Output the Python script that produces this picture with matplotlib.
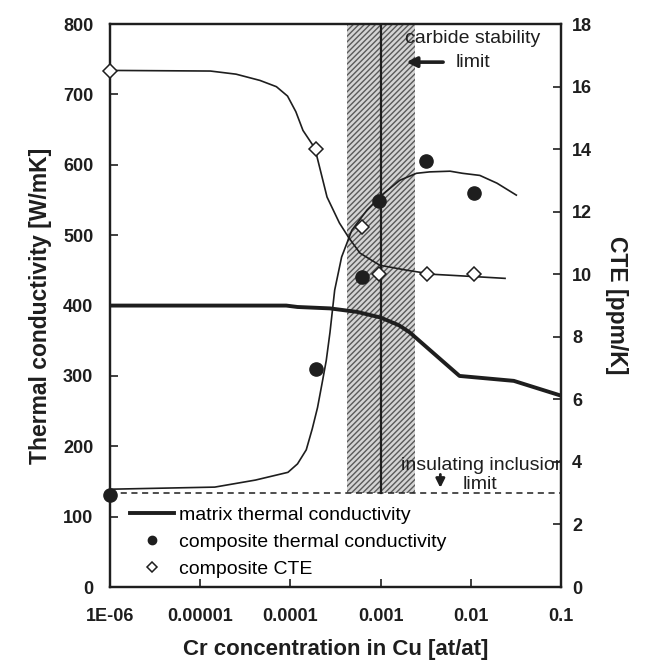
import numpy as np
import matplotlib.pyplot as plt
from matplotlib.lines import Line2D

plt.rcParams['font.family'] = ['Liberation Sans', 'DejaVu Sans']

# matrix thermal conductivity (left axis)
x_matrix = [1e-6, 1e-5, 9e-5, 1.2e-4, 2.75e-4, 5.5e-4, 1e-3, 1.6e-3, 2.1e-3, 7.5e-3, 3e-2, 1e-1]
k_matrix = [400, 400, 400, 398, 396, 391, 383, 372, 362, 300, 293, 272]

# composite thermal conductivity, measured and fit
x_kc = [1e-6, 1.9e-4, 6.3e-4, 9.5e-4, 3.2e-3, 1.1e-2]
k_kc = [131, 310, 440, 548, 605, 560]
x_kc_fit = [1e-6, 1.45e-5, 4.1e-5, 9.4e-5, 1.2e-4, 1.5e-4, 1.75e-4, 2.0e-4, 2.25e-4,
            2.5e-4, 2.75e-4, 3.1e-4, 3.7e-4, 4.8e-4, 7.1e-4, 1.03e-3, 1.63e-3,
            2.5e-3, 3.5e-3, 5.9e-3, 8.1e-3, 1.26e-2, 1.95e-2, 3.2e-2]
k_kc_fit = [139, 142, 152, 163, 175, 195, 225, 255, 290,
            322, 362, 422, 469, 507, 536, 557, 578,
            588, 590, 591, 588, 585, 574, 557]

# composite CTE, measured and fit (right axis)
x_cte = [1e-6, 1.9e-4, 6.3e-4, 9.6e-4, 3.3e-3, 1.1e-2]
cte = [16.5, 14.0, 11.5, 10.0, 10.0, 10.0]
x_cte_fit = [1e-6, 1.3e-5, 2.5e-5, 4.6e-5, 7e-5, 9.3e-5, 1.15e-4, 1.38e-4, 1.87e-4,
             2.55e-4, 3.5e-4, 4.4e-4, 5.9e-4, 9.8e-4, 1.96e-3, 3.8e-3, 5.9e-3,
             1.2e-2, 2.4e-2]
cte_fit = [16.52, 16.5, 16.4, 16.2, 16.0, 15.7, 15.2, 14.6, 14.03,
           12.47, 11.64, 11.19, 10.68, 10.29, 10.13, 10.0, 9.97,
           9.92, 9.87]

x_ticks = [1e-6, 1e-5, 1e-4, 1e-3, 1e-2, 1e-1]
x_ticklabels = ['1E-06', '0.00001', '0.0001', '0.001', '0.01', '0.1']

band = [4.2e-4, 2.4e-3]
carbide_limit = 1e-3
insulating_limit = 133.5

fig = plt.figure(figsize=(6.45, 6.63), dpi=100)
ax = fig.add_axes([0.1705, 0.1146, 0.6992, 0.849])
ax2 = ax.twinx()

c = '#1e1e1e'

ax.fill_between(band, insulating_limit, 800, facecolor='#d4d4d4',
                edgecolor='#5a5a5a', hatch='//////', linewidth=0, zorder=1)
ax.plot([carbide_limit, carbide_limit], [insulating_limit, 800], color=c, lw=1.6, zorder=3)
ax.axhline(insulating_limit, color=c, lw=1.1, ls=(0, (4, 3)), zorder=3)

ax.plot(x_matrix, k_matrix, color=c, lw=2.8, zorder=4)
ax.plot(x_kc_fit, k_kc_fit, color=c, lw=1.2, zorder=4)
ax.plot(x_kc, k_kc, 'o', color=c, ms=9.5, zorder=5, clip_on=False)

ax2.plot(x_cte_fit, cte_fit, color=c, lw=1.2, zorder=4)
ax2.plot(x_cte, cte, 'D', mfc='white', mec=c, mew=1.1, ms=7.5, zorder=5, clip_on=False)

ax.set_xscale('log')
ax.set_xlim(1e-6, 1e-1)
ax.set_ylim(0, 800)
ax2.set_ylim(0, 18)
ax.set_xticks(x_ticks)
ax.set_xticklabels(x_ticklabels)
ax.minorticks_off()
ax.set_yticks(np.arange(0, 801, 100))
ax2.set_yticks(np.arange(0, 19, 2))

for a in (ax, ax2):
    a.tick_params(direction='in', length=6, width=1.2, labelsize=13, colors=c)
    for lab in a.get_xticklabels() + a.get_yticklabels():
        lab.set_fontweight('bold')
    for s in a.spines.values():
        s.set_linewidth(1.6)
        s.set_color(c)
ax.tick_params(axis='x', pad=15)
ax.tick_params(axis='y', pad=12)
ax2.tick_params(axis='y', pad=8)

ax.set_xlabel('Cr concentration in Cu [at/at]', fontsize=16, fontweight='bold', labelpad=10, color=c)
ax.set_ylabel('Thermal conductivity [W/mK]', fontsize=16.5, fontweight='bold', labelpad=8, color=c)
ax2.set_ylabel('CTE [ppm/K]', fontsize=16.5, fontweight='bold', rotation=270, labelpad=26, color=c)

ax2.text(1.05e-2, 780, 'carbide stability', transform=ax.transData, ha='center',
         va='center', fontsize=14, color=c, zorder=6)
ax2.text(1.07e-2, 746, 'limit', transform=ax.transData, ha='center',
         va='center', fontsize=14, color=c, zorder=6)
ax2.annotate('', xy=(1.8e-3, 746), xytext=(5.3e-3, 746), xycoords=ax.transData,
             textcoords=ax.transData,
             arrowprops=dict(arrowstyle='-|>', color=c, lw=2.6, mutation_scale=15))

ax2.text(1.69e-3, 172, 'insulating inclusion', transform=ax.transData, ha='left',
         va='center', fontsize=14, color=c, clip_on=True, zorder=6)
ax2.text(1.26e-2, 146, 'limit', transform=ax.transData, ha='center',
         va='center', fontsize=14, color=c, zorder=6)
ax2.annotate('', xy=(4.6e-3, 137), xytext=(4.6e-3, 164), xycoords=ax.transData,
             textcoords=ax.transData,
             arrowprops=dict(arrowstyle='-|>', color=c, lw=2.0, mutation_scale=13))

handles = [Line2D([], [], color=c, lw=2.8),
           Line2D([], [], marker='o', color=c, ls='none', ms=6),
           Line2D([], [], marker='D', mfc='white', mec=c, mew=1.1, ls='none', ms=5)]
labels = ['matrix thermal conductivity', 'composite thermal conductivity', 'composite CTE']
ax2.legend(handles, labels, loc='upper left', bbox_to_anchor=(0.044, 0.144), frameon=False,
           fontsize=14, handlelength=2.25, labelspacing=0.5, handletextpad=0.3,
           borderpad=0, borderaxespad=0)

fig.savefig('out.png', dpi=100, facecolor='white')
